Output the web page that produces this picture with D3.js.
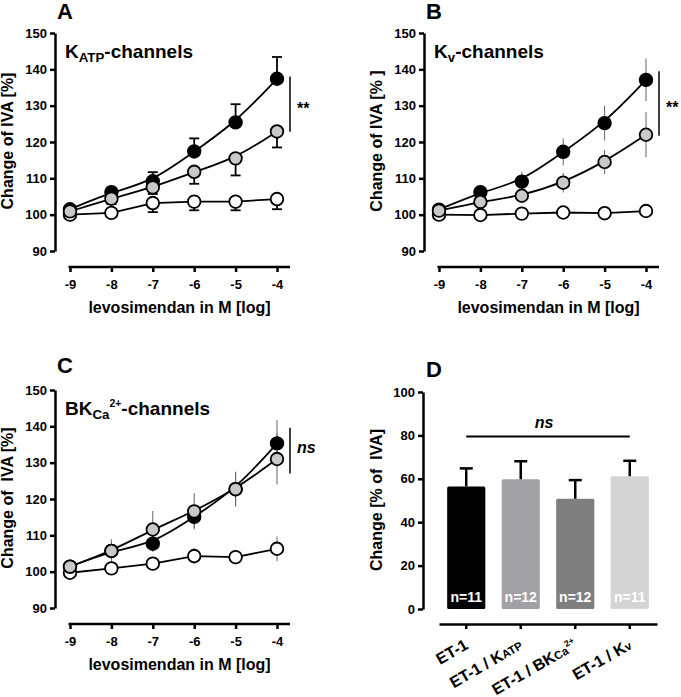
<!DOCTYPE html>
<html>
<head>
<meta charset="utf-8">
<script src="https://cdn.jsdelivr.net/npm/d3@7"></script>
<style>
body { margin: 0; background: #fff; }
svg { font-family: "Liberation Sans", Arial, sans-serif; font-weight: bold; }
text { white-space: pre; }
</style>
</head>
<body>
<script>
// log concentrations of levosimendan
var doses = [-9, -8, -7, -6, -5, -4];
var curveTicks = [90, 100, 110, 120, 130, 140, 150];

// panel A, KATP channels
var katpBlack = [101.5, 106.2, 109.2, 117.4, 125.4, 137.4];
var katpBlackErr = [0.8, 1.0, 2.5, 3.6, 5.0, 6.0];
var katpGrey = [100.9, 104.4, 107.5, 111.8, 115.5, 122.9];
var katpGreyErr = [0.5, 1.5, 1.8, 3.3, 4.7, 4.4];
var katpWhite = [100.0, 100.5, 103.2, 103.6, 103.6, 104.3];
var katpWhiteErr = [0.3, 0.5, 2.5, 2.4, 2.4, 2.8];
var katpBracket = [122.8, 138.0];

// panel B, Kv channels
var kvBlack = [101.4, 106.2, 109.1, 117.3, 125.2, 137.1];
var kvBlackErr = [0.5, 1.0, 2.7, 3.7, 4.8, 5.9];
var kvGrey = [101.1, 103.5, 105.2, 108.8, 114.5, 122.0];
var kvGreyErr = [0.5, 1.0, 1.5, 2.7, 3.3, 6.2];
var kvWhite = [100.0, 99.9, 100.3, 100.6, 100.4, 101.0];
var kvWhiteErr = [0.3, 0.3, 0.5, 0.6, 0.8, 1.5];
var kvBracket = [121.7, 139.5];

// panel C, BKCa2+ channels
var bkBlack = [101.4, 105.7, 107.7, 115.1, 122.7, 135.3];
var bkBlackErr = [0.5, 1.5, 2.2, 3.0, 4.5, 6.4];
var bkGrey = [101.4, 105.7, 111.6, 116.6, 122.7, 131.0];
var bkGreyErr = [0.8, 3.2, 5.1, 5.0, 4.8, 7.0];
var bkWhite = [99.7, 100.9, 102.2, 104.3, 104.0, 106.3];
var bkWhiteErr = [0.3, 0.5, 1.0, 2.2, 2.0, 3.4];
var bkBracket = [127.0, 139.6];

// panel D, bars
var barKeys = ["ET-1", "ET-1 / KATP", "ET-1 / BKCa2+", "ET-1 / Kv"];
var barLabels = [
    [["ET-1", ""]],
    [["ET-1 / K", ""], ["ATP", "small"]],
    [["ET-1 / BK", ""], ["Ca", "small"], ["2+", "sup"]],
    [["ET-1 / K", ""], ["v", "small"]]
];
var barValues = [56.5, 59.8, 50.8, 61.2];
var barErr = [8.3, 8.3, 8.6, 7.1];
var barN = [11, 12, 12, 11];
var barColors = ["#000000", "#a1a1a5", "#7f7f7f", "#d4d4d4"];
var barTicks = [0, 20, 40, 60, 80, 100];
var barNsLevel = 79.5;

var svg = d3.select("body").append("svg")
    .attr("width", 681)
    .attr("height", 697);

// text with sub/superscripts, parts = [[text, kind], ...]
function richText(sel, parts, size) {
    var shift = 0;
    parts.forEach(function (p) {
        var target = 0, fs = size;
        if (p[1] == "sub") { target = size * 0.22; fs = size * 0.7; }
        if (p[1] == "sup") { target = -size * 0.42; fs = size * 0.55; }
        if (p[1] == "small") { fs = size * 0.72; }
        sel.append("tspan")
            .attr("font-size", fs)
            .attr("dy", target - shift)
            .text(p[0]);
        shift = target;
    });
    return sel;
}

function styleAxis(a) {
    a.select(".domain").attr("stroke-width", 2.5);
    a.selectAll(".tick line").attr("stroke-width", 2.5);
    a.selectAll(".tick text")
        .attr("font-size", 13)
        .attr("font-weight", "bold")
        .attr("font-family", "'Liberation Sans', Arial, sans-serif")
        .attr("fill", "#000");
}

function plainNumber(d) {
    return String(d);
}

function curvePanel(p) {
    var x = d3.scaleLinear().domain([-9, -4]).range([p.x0, p.x0 + 207]);
    var y = d3.scaleLinear().domain([90, 150]).range([p.y0 + 218, p.y0]);
    var g = svg.append("g");

    // y axis
    var ya = g.append("g")
        .attr("transform", "translate(" + (p.x0 - 15) + ",0)")
        .call(d3.axisLeft(y).tickValues(curveTicks).tickSize(5).tickPadding(3).tickSizeOuter(0));
    styleAxis(ya);

    // x axis, offset below the plot
    var xa = g.append("g")
        .attr("transform", "translate(0," + (p.y0 + 234) + ")")
        .call(d3.axisBottom(x).tickValues(doses).tickFormat(plainNumber)
            .tickSize(5).tickPadding(8).tickSizeOuter(0));
    xa.select(".domain").remove();
    xa.append("line")
        .attr("x1", x(-9) - 1.5).attr("x2", x(-4) + 13)
        .attr("stroke", "#000").attr("stroke-width", 2.5);
    styleAxis(xa);

    // labels
    g.append("text")
        .attr("x", (x(-9) + x(-4)) / 2 + 6)
        .attr("y", p.y0 + 280)
        .attr("text-anchor", "middle")
        .attr("font-size", 16)
        .text("levosimendan in M [log]");
    g.append("text")
        .attr("transform", "translate(" + (p.x0 - 57.5) + "," + (p.y0 + 108) + ") rotate(-90)")
        .attr("text-anchor", "middle")
        .attr("font-size", 16)
        .text(p.ylabel);
    g.append("text")
        .attr("x", p.x0 - 13)
        .attr("y", p.letterY)
        .attr("font-size", 22)
        .text(p.letter);
    richText(g.append("text")
        .attr("x", p.x0 - 5)
        .attr("y", p.y0 + 25)
        .attr("font-size", 19), p.title, 19);

    var series = [
        {v: p.white, e: p.whiteErr, fill: "#ffffff", dir: -1, curve: d3.curveLinear},
        {v: p.black, e: p.blackErr, fill: "#000000", dir: 1, curve: d3.curveBasis},
        {v: p.grey, e: p.greyErr, fill: "#c9c9c9", dir: -1, curve: d3.curveBasis}
    ];

    // lines
    series.forEach(function (s) {
        var line = d3.line()
            .x(function (d, i) { return x(doses[i]); })
            .y(function (d) { return y(d); })
            .curve(s.curve);
        g.append("path")
            .attr("d", line(s.v))
            .attr("fill", "none")
            .attr("stroke", "#000")
            .attr("stroke-width", 1.8);
    });

    // error bars
    series.forEach(function (s) {
        s.v.forEach(function (d, i) {
            var cx = x(doses[i]);
            if (p.caps) {
                var end = y(d + s.dir * s.e[i]);
                g.append("line").attr("x1", cx).attr("x2", cx)
                    .attr("y1", y(d)).attr("y2", end)
                    .attr("stroke", "#000").attr("stroke-width", 1.8);
                g.append("line").attr("x1", cx - 5).attr("x2", cx + 5)
                    .attr("y1", end).attr("y2", end)
                    .attr("stroke", "#000").attr("stroke-width", 1.8);
            } else {
                g.append("line").attr("x1", cx).attr("x2", cx)
                    .attr("y1", y(d - s.e[i])).attr("y2", y(d + s.e[i]))
                    .attr("stroke", "#666").attr("stroke-width", 1);
            }
        });
    });

    // markers
    series.forEach(function (s) {
        g.selectAll(null)
            .data(s.v)
            .enter().append("circle")
            .attr("cx", function (d, i) { return x(doses[i]); })
            .attr("cy", function (d) { return y(d); })
            .attr("r", 6.3)
            .attr("fill", s.fill)
            .attr("stroke", "#000")
            .attr("stroke-width", 1.8);
    });

    // significance bracket
    var bx = x(-4) + 13;
    g.append("line")
        .attr("x1", bx).attr("x2", bx)
        .attr("y1", y(p.bracket[0])).attr("y2", y(p.bracket[1]))
        .attr("stroke", "#000").attr("stroke-width", 1.5);
    g.append("text")
        .attr("x", bx + 7)
        .attr("y", (y(p.bracket[0]) + y(p.bracket[1])) / 2 + p.markDy)
        .attr("font-size", 16)
        .attr("font-style", p.mark == "ns" ? "italic" : "normal")
        .text(p.mark);
}

curvePanel({
    x0: 70, y0: 33, letter: "A", letterY: 19,
    title: [["K", ""], ["ATP", "sub"], ["-channels", ""]],
    ylabel: "Change of IVA [%]",
    black: katpBlack, blackErr: katpBlackErr,
    grey: katpGrey, greyErr: katpGreyErr,
    white: katpWhite, whiteErr: katpWhiteErr,
    caps: true, bracket: katpBracket, mark: "**", markDy: 10
});

curvePanel({
    x0: 439, y0: 33, letter: "B", letterY: 19,
    title: [["K", ""], ["v", "sub"], ["-channels", ""]],
    ylabel: "Change of IVA [% ]",
    black: kvBlack, blackErr: kvBlackErr,
    grey: kvGrey, greyErr: kvGreyErr,
    white: kvWhite, whiteErr: kvWhiteErr,
    caps: false, bracket: kvBracket, mark: "**", markDy: 10
});

curvePanel({
    x0: 70, y0: 390, letter: "C", letterY: 373,
    title: [["BK", ""], ["Ca", "sub"], ["2+", "sup"], ["-channels", ""]],
    ylabel: "Change of  IVA [%]",
    black: bkBlack, blackErr: bkBlackErr,
    grey: bkGrey, greyErr: bkGreyErr,
    white: bkWhite, whiteErr: bkWhiteErr,
    caps: false, bracket: bkBracket, mark: "ns", markDy: 2
});

// panel D, bar chart
(function () {
    var g = svg.append("g");
    var x = d3.scaleBand().domain(barKeys).range([439, 657]).paddingInner(0.3).paddingOuter(0.15);
    var y = d3.scaleLinear().domain([0, 100]).range([609, 392]);

    var ya = g.append("g")
        .attr("transform", "translate(423,0)")
        .call(d3.axisLeft(y).tickValues(barTicks).tickSize(5).tickPadding(3).tickSizeOuter(0));
    styleAxis(ya);

    var xa = g.append("g")
        .attr("transform", "translate(0,624)")
        .call(d3.axisBottom(x).tickSize(5).tickSizeOuter(0).tickFormat(""));
    styleAxis(xa);

    // rotated category labels
    barKeys.forEach(function (k, i) {
        var t = g.append("text")
            .attr("transform", "translate(" + (x(k) + x.bandwidth() / 2 + 3) + ",648) rotate(-30)")
            .attr("text-anchor", "end")
            .attr("font-size", 16);
        richText(t, barLabels[i], 16);
    });

    g.selectAll(".bar")
        .data(barValues)
        .enter().append("rect")
        .attr("class", "bar")
        .attr("x", function (d, i) { return x(barKeys[i]); })
        .attr("y", function (d) { return y(d); })
        .attr("width", x.bandwidth())
        .attr("height", function (d) { return y(0) - y(d); })
        .attr("rx", 1.5)
        .attr("fill", function (d, i) { return barColors[i]; });

    // error bars, upward only
    barValues.forEach(function (d, i) {
        var cx = x(barKeys[i]) + x.bandwidth() / 2;
        var top = y(d + barErr[i]);
        g.append("line").attr("x1", cx).attr("x2", cx)
            .attr("y1", y(d)).attr("y2", top)
            .attr("stroke", "#000").attr("stroke-width", 2.5);
        g.append("line").attr("x1", cx - 6.5).attr("x2", cx + 6.5)
            .attr("y1", top).attr("y2", top)
            .attr("stroke", "#000").attr("stroke-width", 2.5);
        g.append("text")
            .attr("x", cx)
            .attr("y", 602)
            .attr("text-anchor", "middle")
            .attr("font-size", 14)
            .attr("fill", "#fff")
            .text("n=" + barN[i]);
    });

    // ns line over all bars
    var x1 = x(barKeys[0]) + x.bandwidth() / 2;
    var x2 = x(barKeys[3]) + x.bandwidth() / 2;
    g.append("line")
        .attr("x1", x1).attr("x2", x2)
        .attr("y1", y(barNsLevel)).attr("y2", y(barNsLevel))
        .attr("stroke", "#000").attr("stroke-width", 2);
    g.append("text")
        .attr("x", (x1 + x2) / 2 - 4)
        .attr("y", y(barNsLevel) - 8)
        .attr("text-anchor", "middle")
        .attr("font-size", 16)
        .attr("font-style", "italic")
        .text("ns");

    g.append("text")
        .attr("transform", "translate(381.5,500) rotate(-90)")
        .attr("text-anchor", "middle")
        .attr("font-size", 16)
        .text("Change [% of  IVA]");
    g.append("text")
        .attr("x", 426)
        .attr("y", 377)
        .attr("font-size", 22)
        .text("D");
})();
</script>
</body>
</html>
